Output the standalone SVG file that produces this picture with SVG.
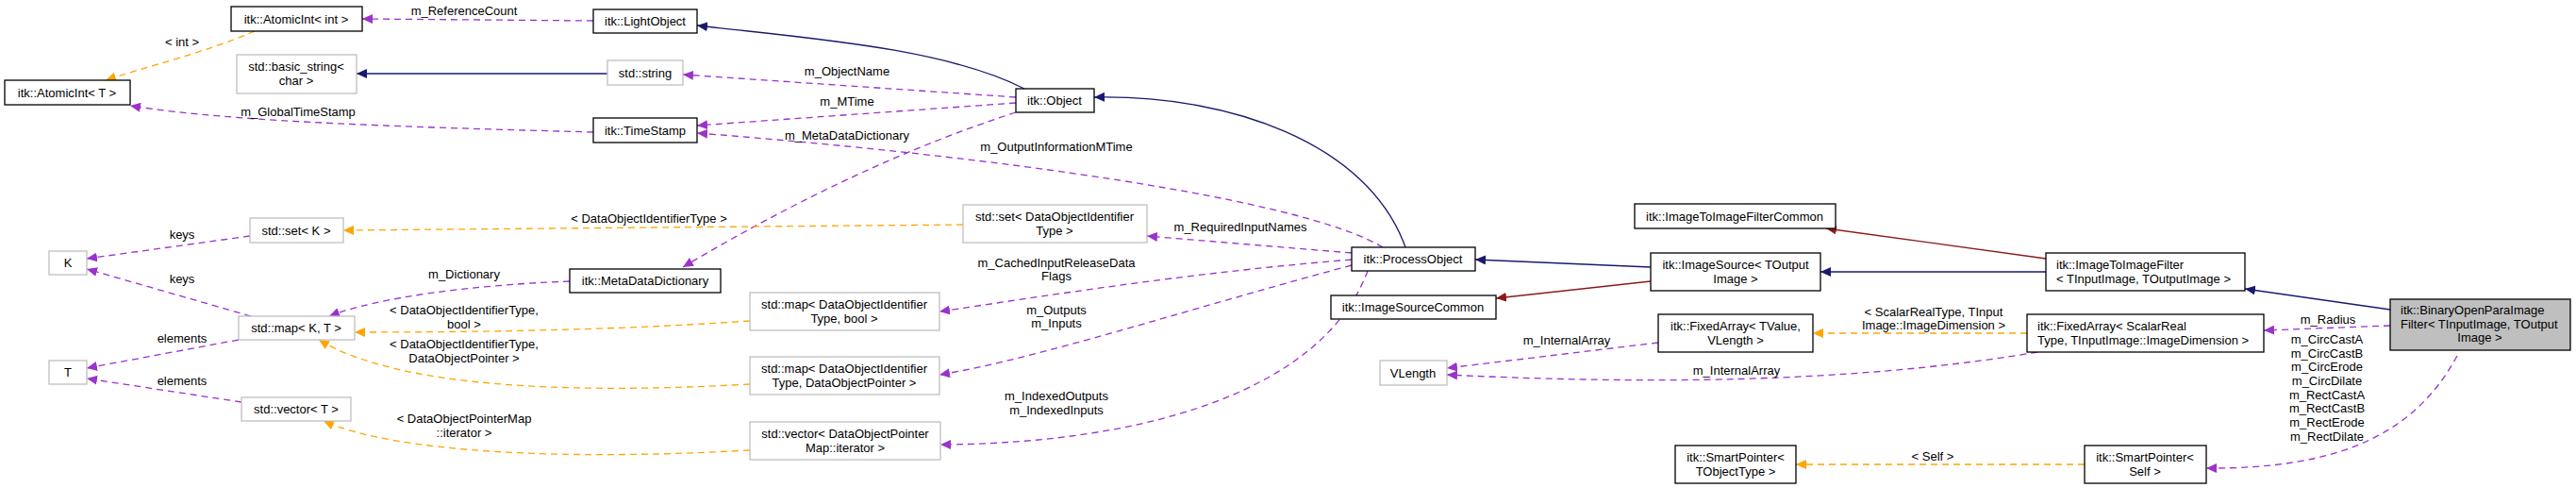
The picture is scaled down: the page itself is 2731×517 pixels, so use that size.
<svg xmlns="http://www.w3.org/2000/svg" width="2731" height="517" viewBox="0 0 2731 517">
<style>
text{font-family:"Liberation Sans",Arial,sans-serif;font-size:13px;fill:#000}
.c{text-anchor:middle}
.nb{fill:#fff;stroke:#000;stroke-width:1.3}
.ng{fill:#fff;stroke:#bfbfbf;stroke-width:1.3}
.nh{fill:#bfbfbf;stroke:#000;stroke-width:1.3}
.e{fill:none;stroke-width:1.3}
.inh{stroke:#191970;marker-end:url(#an)}
.red{stroke:#8b1a1a;marker-end:url(#ar)}
.mem{stroke:#9a32cd;stroke-dasharray:7,5;marker-end:url(#ap)}
.tpl{stroke:#ffa500;stroke-dasharray:7,5;marker-end:url(#ao)}
</style>
<defs>
<marker id="an" markerUnits="userSpaceOnUse" markerWidth="12" markerHeight="10" refX="11" refY="5" orient="auto"><path d="M0,0L11,5L0,10z" fill="#191970"/></marker>
<marker id="ar" markerUnits="userSpaceOnUse" markerWidth="12" markerHeight="10" refX="11" refY="5" orient="auto"><path d="M0,0L11,5L0,10z" fill="#8b1a1a"/></marker>
<marker id="ap" markerUnits="userSpaceOnUse" markerWidth="12" markerHeight="10" refX="11" refY="5" orient="auto"><path d="M0,0L11,5L0,10z" fill="#9a32cd"/></marker>
<marker id="ao" markerUnits="userSpaceOnUse" markerWidth="12" markerHeight="10" refX="11" refY="5" orient="auto"><path d="M0,0L11,5L0,10z" fill="#ffa500"/></marker>
</defs>
<g id="connectors">
<path class="e tpl" d="M270,33 C220,55 150,72 112,85"/>
<path class="e mem" d="M629,22 L384,20"/>
<path class="e inh" d="M644,78 L378,78"/>
<path class="e mem" d="M629,140 C450,135 250,130 138,112"/>
<path class="e inh" d="M1086,94 C1000,50 850,40 739,27"/>
<path class="e mem" d="M1077,103 L724,79"/>
<path class="e mem" d="M1077,109 L739,133"/>
<path class="e mem" d="M1077,119 C950,160 830,220 724,283"/>
<path class="e mem" d="M1466,262 C1380,210 1050,165 739,141"/>
<path class="e mem" d="M1433,268 L1216,250"/>
<path class="e mem" d="M1433,275 C1250,290 1100,315 996,330"/>
<path class="e mem" d="M1433,281 C1250,330 1100,380 996,397"/>
<path class="e mem" d="M1450,287 C1400,420 1200,470 997,471"/>
<path class="e inh" d="M1490,262 C1450,150 1300,100 1160,103"/>
<path class="e tpl" d="M1021,238 L364,244"/>
<path class="e mem" d="M265,250 L92,274"/>
<path class="e mem" d="M604,298 C500,302 400,315 349,335"/>
<path class="e mem" d="M266,335 L92,285"/>
<path class="e mem" d="M253,360 L92,390"/>
<path class="e tpl" d="M795,340 C650,350 500,352 376,352"/>
<path class="e tpl" d="M795,407 C600,418 420,410 338,360"/>
<path class="e mem" d="M256,426 L92,401"/>
<path class="e tpl" d="M795,477 C600,488 420,480 343,446"/>
<path class="e inh" d="M1750,283 L1564,275"/>
<path class="e red" d="M1750,298 L1586,316"/>
<path class="e red" d="M2169,274 L1936,242"/>
<path class="e inh" d="M2169,288 L1930,288"/>
<path class="e mem" d="M1758,363 L1534,390"/>
<path class="e tpl" d="M2149,353 L1922,353"/>
<path class="e mem" d="M2160,373 C2000,400 1800,410 1534,397"/>
<path class="e inh" d="M2534,328 L2380,306"/>
<path class="e mem" d="M2534,345 L2400,350"/>
<path class="e mem" d="M2605,377 C2560,460 2480,497 2339,496"/>
<path class="e tpl" d="M2210,492 L1904,492"/>
</g>
<g id="labels">
<text class="c" x="193" y="49">&lt; int &gt;</text>
<text class="c" x="492" y="16">m_ReferenceCount</text>
<text class="c" x="316" y="123">m_GlobalTimeStamp</text>
<text class="c" x="898" y="80">m_ObjectName</text>
<text class="c" x="898" y="112">m_MTime</text>
<text class="c" x="898" y="148">m_MetaDataDictionary</text>
<text class="c" x="1120" y="160">m_OutputInformationMTime</text>
<text class="c" x="1315" y="245">m_RequiredInputNames</text>
<text class="c" x="1120" y="283">m_CachedInputReleaseData</text>
<text class="c" x="1120" y="297">Flags</text>
<text class="c" x="1120" y="333">m_Outputs</text>
<text class="c" x="1120" y="347">m_Inputs</text>
<text class="c" x="1120" y="424">m_IndexedOutputs</text>
<text class="c" x="1120" y="439">m_IndexedInputs</text>
<text class="c" x="688" y="236">&lt; DataObjectIdentifierType &gt;</text>
<text class="c" x="193" y="253">keys</text>
<text class="c" x="193" y="300">keys</text>
<text class="c" x="492" y="295">m_Dictionary</text>
<text class="c" x="492" y="333">&lt; DataObjectIdentifierType,</text>
<text class="c" x="492" y="348">bool &gt;</text>
<text class="c" x="492" y="369">&lt; DataObjectIdentifierType,</text>
<text class="c" x="492" y="384">DataObjectPointer &gt;</text>
<text class="c" x="193" y="363">elements</text>
<text class="c" x="193" y="408">elements</text>
<text class="c" x="492" y="448">&lt; DataObjectPointerMap</text>
<text class="c" x="492" y="463">::iterator &gt;</text>
<text class="c" x="1661" y="365">m_InternalArray</text>
<text class="c" x="1841" y="397">m_InternalArray</text>
<text class="c" x="2050" y="335">&lt; ScalarRealType, TInput</text>
<text class="c" x="2050" y="349">Image::ImageDimension &gt;</text>
<text class="c" x="2049" y="488">&lt; Self &gt;</text>
<text class="c" x="2468" y="343">m_Radius</text>
<text class="c" x="2467" y="364">m_CircCastA</text>
<text class="c" x="2467" y="379">m_CircCastB</text>
<text class="c" x="2467" y="393">m_CircErode</text>
<text class="c" x="2467" y="408">m_CircDilate</text>
<text class="c" x="2467" y="423">m_RectCastA</text>
<text class="c" x="2467" y="437">m_RectCastB</text>
<text class="c" x="2467" y="452">m_RectErode</text>
<text class="c" x="2467" y="467">m_RectDilate</text>
</g>
<g id="n-atomicint-int"><rect class="nb" x="245" y="7" width="139" height="26"/><text class="c" x="314" y="25">itk::AtomicInt&lt; int &gt;</text></g>
<g id="n-lightobject"><rect class="nb" x="629" y="10" width="110" height="25"/><text class="c" x="684" y="27">itk::LightObject</text></g>
<g id="n-atomicint-t"><rect class="nb" x="5" y="85" width="133" height="26"/><text class="c" x="71" y="103">itk::AtomicInt&lt; T &gt;</text></g>
<g id="n-basic-string"><rect class="ng" x="251" y="58" width="127" height="41"/><text class="c" x="314" y="75">std::basic_string&lt;</text><text class="c" x="314" y="90">char &gt;</text></g>
<g id="n-string"><rect class="ng" x="644" y="64" width="80" height="26"/><text class="c" x="684" y="82">std::string</text></g>
<g id="n-timestamp"><rect class="nb" x="629" y="125" width="110" height="26"/><text class="c" x="684" y="143">itk::TimeStamp</text></g>
<g id="n-object"><rect class="nb" x="1077" y="94" width="83" height="25"/><text class="c" x="1118" y="111">itk::Object</text></g>
<g id="n-set-k"><rect class="ng" x="265" y="231" width="99" height="26"/><text class="c" x="314" y="249">std::set&lt; K &gt;</text></g>
<g id="n-k"><rect class="ng" x="52" y="266" width="40" height="25"/><text class="c" x="72" y="283">K</text></g>
<g id="n-metadatadictionary"><rect class="nb" x="604" y="285" width="160" height="25"/><text class="c" x="684" y="302">itk::MetaDataDictionary</text></g>
<g id="n-map-kt"><rect class="ng" x="253" y="335" width="123" height="25"/><text class="c" x="314" y="352">std::map&lt; K, T &gt;</text></g>
<g id="n-t"><rect class="ng" x="52" y="382" width="40" height="25"/><text class="c" x="72" y="399">T</text></g>
<g id="n-vector-t"><rect class="ng" x="256" y="421" width="116" height="25"/><text class="c" x="314" y="438">std::vector&lt; T &gt;</text></g>
<g id="n-set-doit"><rect class="ng" x="1021" y="217" width="195" height="40"/><text class="c" x="1118" y="234">std::set&lt; DataObjectIdentifier</text><text class="c" x="1118" y="249">Type &gt;</text></g>
<g id="n-map-bool"><rect class="ng" x="795" y="310" width="201" height="40"/><text class="c" x="895" y="327">std::map&lt; DataObjectIdentifier</text><text class="c" x="895" y="342">Type, bool &gt;</text></g>
<g id="n-map-dop"><rect class="ng" x="795" y="378" width="201" height="40"/><text class="c" x="895" y="395">std::map&lt; DataObjectIdentifier</text><text class="c" x="895" y="410">Type, DataObjectPointer &gt;</text></g>
<g id="n-vector-iter"><rect class="ng" x="795" y="447" width="202" height="40"/><text class="c" x="896" y="464">std::vector&lt; DataObjectPointer</text><text class="c" x="896" y="479">Map::iterator &gt;</text></g>
<g id="n-processobject"><rect class="nb" x="1433" y="262" width="131" height="25"/><text class="c" x="1498" y="279">itk::ProcessObject</text></g>
<g id="n-imagesourcecommon"><rect class="nb" x="1411" y="313" width="175" height="25"/><text class="c" x="1498" y="330">itk::ImageSourceCommon</text></g>
<g id="n-itifcommon"><rect class="nb" x="1733" y="216" width="213" height="26"/><text class="c" x="1839" y="234">itk::ImageToImageFilterCommon</text></g>
<g id="n-imagesource"><rect class="nb" x="1750" y="268" width="180" height="40"/><text class="c" x="1840" y="285">itk::ImageSource&lt; TOutput</text><text class="c" x="1840" y="300">Image &gt;</text></g>
<g id="n-fixedarray-tvalue"><rect class="nb" x="1758" y="333" width="164" height="40"/><text class="c" x="1840" y="350">itk::FixedArray&lt; TValue,</text><text class="c" x="1840" y="365">VLength &gt;</text></g>
<g id="n-vlength"><rect class="ng" x="1463" y="382" width="71" height="26"/><text class="c" x="1498" y="400">VLength</text></g>
<g id="n-smartpointer-t"><rect class="nb" x="1776" y="472" width="128" height="40"/><text class="c" x="1840" y="489">itk::SmartPointer&lt;</text><text class="c" x="1840" y="504">TObjectType &gt;</text></g>
<g id="n-itif"><rect class="nb" x="2169" y="268" width="211" height="40"/><text x="2180" y="285">itk::ImageToImageFilter</text><text x="2180" y="300">&lt; TInputImage, TOutputImage &gt;</text></g>
<g id="n-fixedarray-scalar"><rect class="nb" x="2149" y="333" width="251" height="40"/><text x="2160" y="350">itk::FixedArray&lt; ScalarReal</text><text x="2160" y="365">Type, TInputImage::ImageDimension &gt;</text></g>
<g id="n-smartpointer-self"><rect class="nb" x="2210" y="472" width="129" height="40"/><text class="c" x="2274" y="489">itk::SmartPointer&lt;</text><text class="c" x="2274" y="504">Self &gt;</text></g>
<g id="n-binaryopenpara"><rect class="nh" x="2534" y="317" width="191" height="54"/><text x="2545" y="333">itk::BinaryOpenParaImage</text><text x="2545" y="348">Filter&lt; TInputImage, TOutput</text><text class="c" x="2629" y="362">Image &gt;</text></g>
</svg>
